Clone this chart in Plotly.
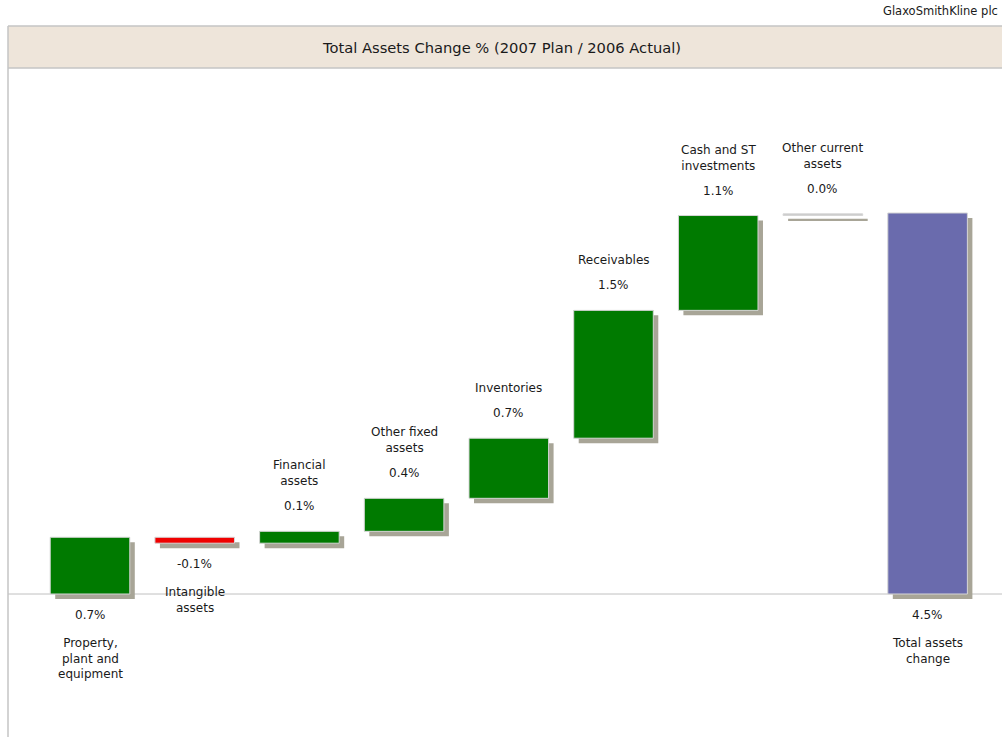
import plotly.graph_objects as go

# data
categories = [
    "Property,<br>plant and<br>equipment",
    "Intangible<br>assets",
    "Financial<br>assets",
    "Other fixed<br>assets",
    "Inventories",
    "Receivables",
    "Cash and ST<br>investments",
    "Other current<br>assets",
    "Total assets<br>change",
]
changes = [0.67, -0.07, 0.14, 0.39, 0.71, 1.51, 1.12, 0.02]
total_change = 4.5
value_labels = ["0.7%", "-0.1%", "0.1%", "0.4%", "0.7%", "1.5%", "1.1%", "0.0%", "4.5%"]

W, H = 1002, 737
FONT = "Tahoma, DejaVu Sans, sans-serif"
GREEN = "#007A00"
RED = "#F00000"
FLAT = "#C8C8C8"
TOTAL = "#6A6BAD"
SHADOW = "#A8A597"

# waterfall bases
bases, heights = [], []
cum = 0.0
for c in changes:
    bases.append(cum)
    heights.append(c)
    cum += c
bases.append(0.0)
heights.append(total_change)


def step_color(c):
    if abs(c) < 0.05:  # shows as 0.0%
        return FLAT
    return GREEN if c > 0 else RED


colors = [step_color(c) for c in changes] + [TOTAL]
xs = list(range(len(categories)))

# axis geometry (pixel based)
plot_top = 68
baseline_px = 594
px_per_unit_y = 84.67
x_pitch = 104.7
y_hi = (baseline_px - plot_top) / px_per_unit_y
y_lo = -(H - baseline_px) / px_per_unit_y
x_lo = -(90 - 8) / x_pitch
x_hi = x_lo + (W - 8) / x_pitch

bar_w = 0.76
dx = 5 / x_pitch
dy = 5 / px_per_unit_y

fig = go.Figure()

# shadows
fig.add_trace(go.Bar(
    x=xs, y=heights, base=[b - dy for b in bases],
    width=bar_w, offset=-bar_w / 2 + dx,
    marker=dict(color=SHADOW, line=dict(width=0)),
    hoverinfo="skip", showlegend=False,
))
# bars
fig.add_trace(go.Bar(
    x=xs, y=heights, base=bases,
    width=bar_w, offset=-bar_w / 2,
    marker=dict(color=colors, line=dict(color="#D6D6D6", width=1)),
    showlegend=False,
))

# labels
for i, (name, val) in enumerate(zip(categories, value_labels)):
    top = max(bases[i], bases[i] + heights[i])
    bottom = min(bases[i], bases[i] + heights[i])
    below = i == 0 or i == len(categories) - 1 or heights[i] < 0
    if below:
        fig.add_annotation(x=i, y=bottom, text=val, showarrow=False,
                           yanchor="middle", yshift=-21)
        fig.add_annotation(x=i, y=bottom, text=name, showarrow=False,
                           yanchor="top", yshift=-40)
    else:
        fig.add_annotation(x=i, y=top, text=val, showarrow=False,
                           yanchor="middle", yshift=25)
        fig.add_annotation(x=i, y=top, text=name, showarrow=False,
                           yanchor="bottom", yshift=41)

# header
fig.add_annotation(xref="paper", yref="paper", x=1000 / W, y=1 - 11 / H,
                   text="GlaxoSmithKline plc", showarrow=False,
                   xanchor="right", yanchor="middle", font=dict(size=11.5))
fig.add_annotation(xref="paper", yref="paper", x=501 / W, y=1 - 47 / H,
                   text="Total Assets Change % (2007 Plan / 2006 Actual)",
                   showarrow=False, xanchor="center", yanchor="middle",
                   font=dict(size=14.7))

shapes = [
    # title band
    dict(type="rect", xref="paper", yref="paper", x0=8 / W, x1=1,
         y0=1 - 68 / H, y1=1 - 26 / H, fillcolor="#EEE5DA",
         line=dict(width=0), layer="below"),
    dict(type="line", xref="paper", yref="paper", x0=8 / W, x1=1,
         y0=1 - 26 / H, y1=1 - 26 / H, line=dict(color="#C4C4C4", width=1.5)),
    dict(type="line", xref="paper", yref="paper", x0=8 / W, x1=1,
         y0=1 - 68 / H, y1=1 - 68 / H, line=dict(color="#C4C4C4", width=1.5)),
    dict(type="line", xref="paper", yref="paper", x0=8 / W, x1=8 / W,
         y0=0, y1=1 - 26 / H, line=dict(color="#C4C4C4", width=1.5)),
    # baseline
    dict(type="line", xref="paper", yref="y", x0=8 / W, x1=1, y0=0, y1=0,
         line=dict(color="#C0C0C0", width=1), layer="below"),
]

fig.update_layout(
    width=W, height=H,
    margin=dict(l=0, r=0, t=0, b=0),
    paper_bgcolor="white", plot_bgcolor="white",
    barmode="overlay",
    font=dict(family=FONT, size=12, color="#1A1A1A"),
    shapes=shapes,
    xaxis=dict(domain=[8 / W, 1], range=[x_lo, x_hi], visible=False, fixedrange=True),
    yaxis=dict(domain=[0, (H - plot_top) / H], range=[y_lo, y_hi], visible=False,
               fixedrange=True),
)

# page body has an 8px default margin; drop it so the figure fills the window
fig.write_html(
    "out.html",
    config={"displayModeBar": False},
    post_script="document.body.style.margin='0';",
)
